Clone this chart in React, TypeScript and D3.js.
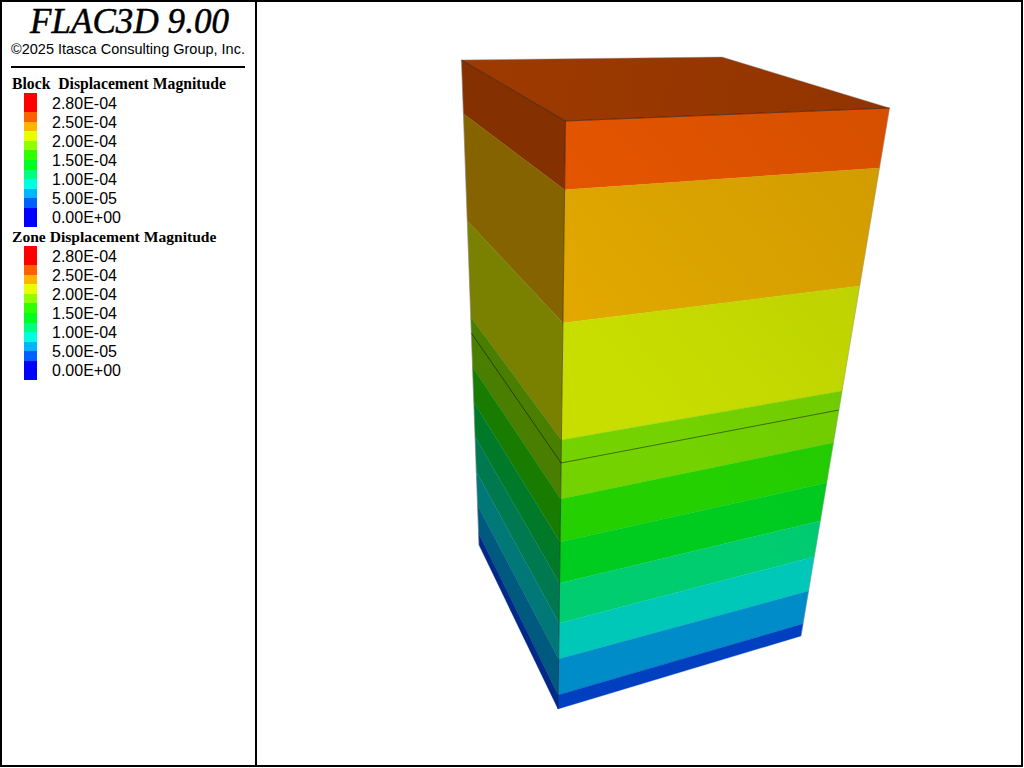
import React from "react";
import * as d3 from "d3";

// ---- data ----
const legendLabels = ["2.80E-04", "2.50E-04", "2.00E-04", "1.50E-04", "1.00E-04", "5.00E-05", "0.00E+00"];
const legendColors = ["#FF0000", "#FF6000", "#FFB400", "#E8FF00", "#90FF00", "#30FF00", "#00FF20", "#00FF80", "#00FFE0", "#00B4FF", "#0060FF", "#0000FF"];
const legendWeights = [2, 1, 1, 1, 1, 1, 1, 1, 1, 1, 1, 2];
// fraction of the way down each vertical block edge where one contour band ends
const leftEdgeLevels = [0, 0.111, 0.332, 0.53, 0.633, 0.705, 0.777, 0.849, 0.918, 0.975, 1];
const centreEdgeLevels = [0, 0.117, 0.3435, 0.5425, 0.643, 0.716, 0.786, 0.854, 0.915, 0.976, 1];
const rightEdgeLevels = [0, 0.1136, 0.337, 0.536, 0.634, 0.7098, 0.782, 0.85, 0.915, 0.977, 1];
const contactLevels = { left: 0.563, centre: 0.5816, right: 0.572 };
const frontColors = ["#E85600", "#E2A800", "#C8DE00", "#74D200", "#24D000", "#00CC20", "#00CC70", "#00C8B8", "#008CC8", "#0040C0"];
const sideColors = ["#843000", "#856400", "#7A8000", "#4A7E00", "#187C00", "#007A28", "#007850", "#007878", "#005A80", "#002A88"];

// ---- layout ----
const LEFT = { top: [461.5, 60], bottom: [479, 545] };
const CENTRE = { top: [565.5, 121], bottom: [558, 709] };
const RIGHT = { top: [889.5, 108], bottom: [801, 636] };
const BACK: [number, number] = [722, 57];

const edgeX = (e: { top: number[]; bottom: number[] }) => d3.scaleLinear().domain([0, 1]).range([e.top[0], e.bottom[0]]);
const edgeY = (e: { top: number[]; bottom: number[] }) => d3.scaleLinear().domain([0, 1]).range([e.top[1], e.bottom[1]]);
const at = (e: { top: number[]; bottom: number[] }, t: number): [number, number] => [edgeX(e)(t), edgeY(e)(t)];
const poly = d3.line().curve(d3.curveLinearClosed);
const seg = d3.line();

function Legend({ title, titleY, top, fs }: { title: string; titleY: number; top: number; fs: number }) {
  const total = d3.sum(legendWeights);
  const y = d3.scaleLinear().domain([0, total]).range([top, top + 134]);
  const labelY = d3.scalePoint<string>().domain(legendLabels).range([top + 15.5, top + 129.5]);
  let acc = 0;
  return (
    <g>
      <text x={12} y={titleY} fontFamily="'Liberation Serif'" fontWeight="bold" fontSize={fs} style={{ whiteSpace: "pre" }}>{title}</text>
      {legendColors.map((c, i) => {
        const y0 = y(acc);
        acc += legendWeights[i];
        return <rect key={i} x={24} y={y0} width={13} height={y(acc) - y0} fill={c} shapeRendering="crispEdges" />;
      })}
      {legendLabels.map((l) => (
        <text key={l} x={52} y={labelY(l)} fontFamily="'Liberation Sans'" fontSize={16} fill="#000">{l}</text>
      ))}
    </g>
  );
}

export default function App() {
  const bands = frontColors.map((_, i) => i);
  return (
    <svg width={1024} height={768} style={{ position: "fixed", left: 0, top: 0, display: "block", background: "#fff" }}>
      <defs>
        <linearGradient id="frontShade" gradientUnits="userSpaceOnUse" x1={600} y1={350} x2={890} y2={108}>
          <stop offset="0" stopColor="#000" stopOpacity={0} />
          <stop offset="1" stopColor="#000" stopOpacity={0.08} />
        </linearGradient>
        <linearGradient id="topShade" gradientUnits="userSpaceOnUse" x1={462} y1={60} x2={889} y2={108}>
          <stop offset="0" stopColor="#9E3A00" />
          <stop offset="1" stopColor="#913400" />
        </linearGradient>
      </defs>
      <rect x={0} y={0} width={1024} height={768} fill="#fff" />

      {/* block: side face */}
      {bands.map((i) => (
        <path key={`s${i}`} fill={sideColors[i]} stroke={sideColors[i]} strokeWidth={0.3}
          d={poly([at(LEFT, leftEdgeLevels[i]), at(CENTRE, centreEdgeLevels[i]), at(CENTRE, centreEdgeLevels[i + 1]), at(LEFT, leftEdgeLevels[i + 1])]) || ""} />
      ))}
      {/* block: front face */}
      {bands.map((i) => (
        <path key={`f${i}`} fill={frontColors[i]} stroke={frontColors[i]} strokeWidth={0.3}
          d={poly([at(CENTRE, centreEdgeLevels[i]), at(RIGHT, rightEdgeLevels[i]), at(RIGHT, rightEdgeLevels[i + 1]), at(CENTRE, centreEdgeLevels[i + 1])]) || ""} />
      ))}
      <path fill="url(#frontShade)" d={poly([at(CENTRE, 0), at(RIGHT, 0), at(RIGHT, 1), at(CENTRE, 1)]) || ""} />
      {/* block: top face */}
      <path fill="url(#topShade)" d={poly([at(LEFT, 0), BACK, at(RIGHT, 0), at(CENTRE, 0)]) || ""} />

      {/* silhouette */}
      <path fill="none" stroke="#888" strokeWidth={0.6} d={seg([at(LEFT, 0), BACK, at(RIGHT, 0), at(RIGHT, 1)]) || ""} opacity={0.7} />
      <path fill="none" stroke="#888" strokeWidth={0.6} d={seg([at(LEFT, 0), at(LEFT, 1)]) || ""} opacity={0.8} />
      {/* block edges */}
      <path fill="none" stroke="#000" strokeOpacity={0.6} strokeWidth={0.8} d={seg([at(LEFT, 0), at(CENTRE, 0), at(RIGHT, 0)]) || ""} />
      <path fill="none" stroke="#000" strokeOpacity={0.6} strokeWidth={0.8} d={seg([at(CENTRE, 0), at(CENTRE, 1)]) || ""} />
      <path fill="none" stroke="#000" strokeOpacity={0.6} strokeWidth={0.8}
        d={seg([at(LEFT, contactLevels.left), at(CENTRE, contactLevels.centre), at(RIGHT, contactLevels.right)]) || ""} />

      {/* legend panel */}
      <text x={30} y={33} fontFamily="'Liberation Serif'" fontStyle="italic" fontSize={35} stroke="#000" strokeWidth={0.5} style={{ fontKerning: "none" }} textLength={199}>FLAC3D 9.00</text>
      <text x={11} y={54} fontFamily="'Liberation Sans'" fontSize={14.5}>©2025 Itasca Consulting Group, Inc.</text>
      <rect x={11} y={66} width={234} height={2} fill="#000" />
      <Legend title="Block  Displacement Magnitude" titleY={89} top={93} fs={15.7} />
      <Legend title="Zone Displacement Magnitude" titleY={242} top={246} fs={15.6} />

      {/* frame */}
      <rect x={0} y={0} width={1023} height={2} fill="#000" />
      <rect x={0} y={765} width={1023} height={2} fill="#000" />
      <rect x={0} y={0} width={2} height={767} fill="#000" />
      <rect x={1021} y={0} width={2} height={767} fill="#000" />
      <rect x={255} y={0} width={2} height={767} fill="#000" />
    </svg>
  );
}
